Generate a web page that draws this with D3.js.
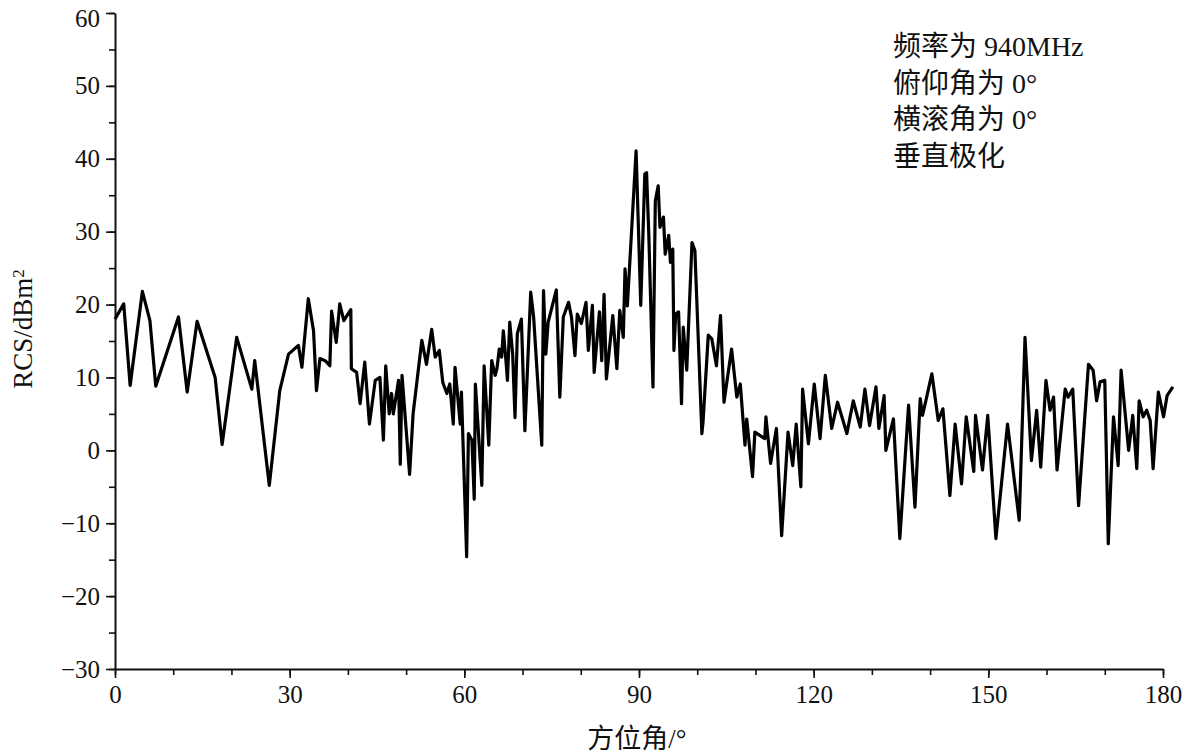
<!DOCTYPE html>
<html>
<head>
<meta charset="utf-8">
<script src="https://cdn.jsdelivr.net/npm/d3@7"></script>
<style>
  body { margin: 0; background: #fff; }
  text { font-family: "Liberation Serif", "Noto Sans CJK SC", serif; fill: #111; }
</style>
</head>
<body>
<div id="chart"></div>
<script>
// azimuth angle (deg) and RCS (dBm^2)
let azimuth = [0.0, 1.5, 2.6, 4.7, 6.0, 7.0, 10.9, 12.4, 14.1, 17.2, 18.4, 20.9, 23.5, 24.0, 26.5, 28.3, 29.8,
  31.5, 32.1, 33.2, 34.1, 34.6, 35.2, 36.1, 36.9, 37.2, 38.0, 38.6, 39.3, 40.5, 40.6, 41.5, 42.1, 42.9, 43.7,
  44.7, 45.5, 46.1, 46.5, 47.1, 47.5, 47.8, 48.7, 49.0, 49.3, 49.8, 50.6, 51.2, 52.7, 53.5, 54.4, 55.0, 55.7,
  56.3, 57.0, 57.5, 58.1, 58.4, 59.3, 59.5, 60.4, 60.7, 61.3, 61.7, 61.9, 62.4, 63.0, 63.4, 64.2, 64.7, 65.3,
  65.6, 66.0, 66.4, 66.7, 67.2, 67.4, 67.8, 68.3, 68.7, 69.1, 69.8, 70.4, 71.4, 71.9, 73.3, 73.6, 74.0, 74.4,
  75.8, 76.4, 77.0, 77.9, 78.4, 79.0, 79.4, 80.1, 80.9, 81.3, 82.0, 82.3, 83.2, 83.6, 84.0, 84.4, 85.5, 86.2,
  86.7, 87.3, 87.6, 88.0, 89.5, 90.3, 91.0, 91.3, 91.7, 92.4, 92.8, 93.3, 93.6, 94.2, 94.5, 95.1, 95.4, 95.8,
  96.0, 96.3, 96.8, 97.3, 97.6, 98.2, 99.1, 99.6, 100.8, 101.0, 101.9, 102.5, 103.3, 104.0, 104.6, 105.9,
  106.8, 107.4, 108.2, 108.5, 109.5, 109.9, 111.6, 111.8, 112.6, 113.6, 114.5, 115.6, 116.4, 117.0, 117.8,
  118.1, 119.1, 120.1, 121.1, 122.0, 123.1, 124.1, 125.7, 126.8, 128.0, 128.8, 129.6, 130.7, 131.2, 132.1,
  132.4, 133.7, 134.8, 136.3, 137.4, 138.3, 138.7, 140.3, 141.4, 142.2, 143.4, 144.3, 145.4, 146.2, 147.5,
  147.8, 149.0, 149.9, 151.3, 153.3, 155.3, 156.3, 157.4, 158.3, 159.0, 159.9, 160.6, 161.2, 161.8, 163.2,
  163.7, 164.5, 165.5, 167.2, 168.0, 168.6, 169.2, 170.0, 170.6, 171.5, 172.3, 172.8, 174.1, 174.8, 175.5,
  175.9, 176.6, 177.2, 177.8, 178.3, 179.2, 180.1, 180.7, 181.7];

let rcs = [18.0, 20.1, 8.9, 21.8, 17.8, 8.8, 18.3, 8.0, 17.7, 10.0, 0.8, 15.5, 8.4, 12.3, -4.8, 8.2, 13.2,
  14.4, 11.4, 20.8, 16.4, 8.2, 12.6, 12.3, 11.6, 19.1, 14.8, 20.1, 17.8, 19.3, 11.2, 10.7, 6.4, 12.1, 3.6,
  9.6, 10.0, 1.4, 11.6, 5.0, 7.8, 5.0, 9.6, -1.9, 10.3, 5.0, -3.3, 5.0, 15.1, 11.8, 16.6, 12.8, 13.7,
  9.3, 7.8, 9.1, 3.6, 11.4, 3.6, 8.0, -14.6, 2.3, 1.4, -6.7, 9.1, 2.7, -4.8, 11.6, 0.7, 12.3, 10.3,
  11.2, 13.9, 12.8, 16.4, 11.8, 9.6, 17.6, 13.2, 4.5, 16.0, 18.0, 2.7, 21.7, 18.3, 0.7, 21.9, 13.2, 17.6,
  22.0, 7.3, 18.3, 20.3, 18.3, 13.0, 18.7, 17.4, 20.3, 13.7, 19.9, 10.7, 19.0, 12.3, 21.4, 9.8, 18.5, 11.2,
  19.2, 15.5, 24.9, 19.8, 41.1, 19.9, 37.9, 38.1, 29.2, 8.7, 34.2, 36.3, 30.6, 32.0, 26.9, 29.5, 25.8, 27.6,
  13.7, 18.7, 19.0, 6.4, 16.9, 11.0, 28.5, 27.4, 2.3, 3.9, 15.8, 15.3, 11.6, 18.5, 6.6, 13.9,
  7.3, 9.1, 0.7, 4.3, -3.6, 2.5, 1.6, 4.6, -1.8, 3.0, -11.7, 2.5, -2.1, 3.6, -5.0,
  8.4, 0.9, 9.1, 1.6, 10.3, 3.0, 6.6, 2.3, 6.8, 3.2, 8.4, 3.4, 8.7, 3.0, 7.5,
  0.0, 4.3, -12.1, 6.2, -7.8, 7.1, 4.8, 10.5, 4.1, 5.7, -6.2, 3.6, -4.6, 4.6, -2.9,
  4.8, -2.7, 4.8, -12.1, 3.6, -9.6, 15.5, -1.4, 5.5, -2.3, 9.6, 5.5, 7.3, -2.7, 8.4,
  7.3, 8.4, -7.6, 11.8, 11.0, 6.8, 9.4, 9.6, -12.8, 4.6, -2.1, 11.0, 0.0, 4.8, -2.5,
  6.8, 4.6, 5.5, 4.1, -2.5, 8.0, 4.6, 7.5, 8.7];

let xMajorTicks = [0, 30, 60, 90, 120, 150, 180];
let yMajorTicks = [-30, -20, -10, 0, 10, 20, 30, 40, 50, 60];
let notes = ["频率为 940MHz", "俯仰角为 0°", "横滚角为 0°", "垂直极化"];

let svgWidth = 1187;
let svgHeight = 756;

let svg = d3.select("#chart")
  .append("svg")
  .attr("width", svgWidth)
  .attr("height", svgHeight);

// Scales
const xScale = d3.scaleLinear()
  .domain([0, 180])
  .range([115, 1163]);

const yScale = d3.scaleLinear()
  .domain([-30, 60])
  .range([669, 13]);

// minor ticks first, then the labelled ones
svg.append("g")
  .attr("transform", "translate(0, 669)")
  .call(d3.axisBottom(xScale).tickValues(d3.range(0, 181, 10)).tickSize(6).tickFormat(""))
  .call(g => g.select(".domain").remove());

svg.append("g")
  .attr("transform", "translate(115, 0)")
  .call(d3.axisLeft(yScale).tickValues(d3.range(-30, 61, 5)).tickSize(6).tickFormat(""))
  .call(g => g.select(".domain").remove());

const bottomAxis = d3.axisBottom(xScale)
  .tickValues(xMajorTicks)
  .tickSize(9)
  .tickSizeOuter(0)
  .tickPadding(5);

const leftAxis = d3.axisLeft(yScale)
  .tickValues(yMajorTicks)
  .tickSize(9)
  .tickSizeOuter(0)
  .tickPadding(6)
  .tickFormat(d => d < 0 ? "\u2212" + Math.abs(d) : d);

svg.append("g")
  .attr("class", "xaxis")
  .attr("transform", "translate(0, 669)")
  .call(bottomAxis);

svg.append("g")
  .attr("class", "yaxis")
  .attr("transform", "translate(115, 0)")
  .call(leftAxis);

svg.selectAll(".domain").attr("stroke", "#111").attr("stroke-width", 2);
svg.selectAll(".tick line").attr("stroke", "#111").attr("stroke-width", 1.6);
svg.selectAll(".tick text")
  .attr("font-size", "25px")
  .style("font-family", "'Liberation Serif', serif");
svg.selectAll(".xaxis .tick text").attr("dy", "0.8em");
// keep the top label inside the page
svg.selectAll(".yaxis .tick text").filter(d => d === 60).attr("dy", "0.55em");

// the RCS curve
let points = azimuth.map((a, i) => [a, rcs[i]]);

let line = d3.line()
  .x(d => xScale(d[0]))
  .y(d => yScale(d[1]));

svg.append("path")
  .datum(points)
  .attr("d", line)
  .attr("fill", "none")
  .attr("stroke", "#000")
  .attr("stroke-width", 3.2)
  .attr("stroke-linejoin", "round");

// Axes labels
svg.append("text")
  .attr("transform", "translate(32, 329) rotate(-90)")
  .attr("text-anchor", "middle")
  .attr("font-size", "27px")
  .text("RCS/dBm")
  .append("tspan")
  .attr("dy", "-0.5em")
  .attr("font-size", "17px")
  .text("2");

svg.append("text")
  .attr("x", 637)
  .attr("y", 748)
  .attr("text-anchor", "middle")
  .attr("font-size", "27px")
  .text("方位角/°");

// notes in the top right
svg.append("g")
  .selectAll("text")
  .data(notes)
  .enter()
  .append("text")
  .attr("x", 893)
  .attr("y", (d, i) => 56 + i * 36.5)
  .attr("font-size", "28px")
  .text(d => d);
</script>
</body>
</html>
